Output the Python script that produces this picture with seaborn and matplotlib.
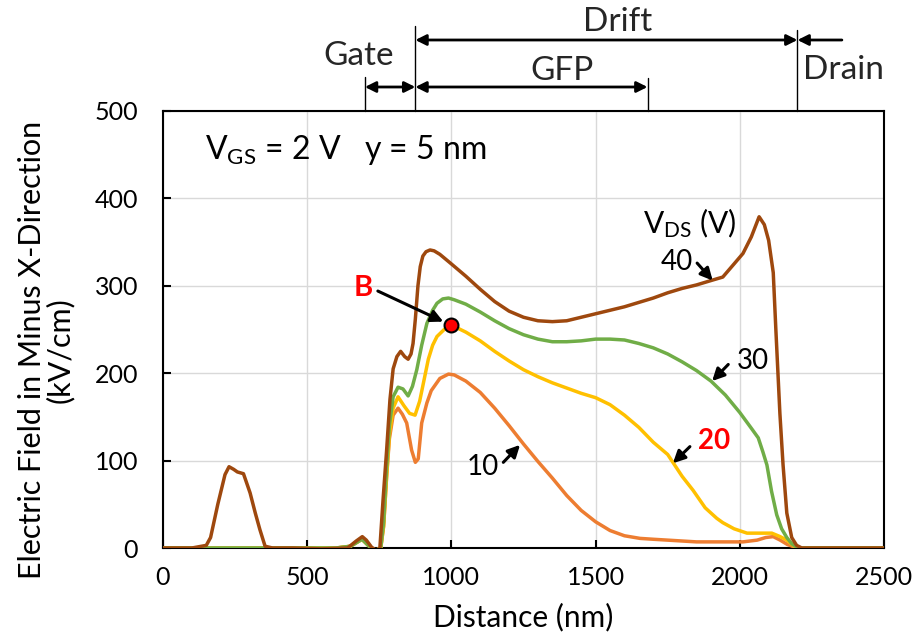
import numpy as np
import pandas as pd
import matplotlib
matplotlib.use("Agg")
import matplotlib.pyplot as plt
import seaborn as sns

# ---------------- data ----------------
x_40 = [0, 100, 150, 165, 190, 215, 229, 245, 258, 279, 302, 320, 336, 354, 380, 450, 550, 640,
        670, 691, 705, 723, 740, 752, 763, 775, 787, 798, 811, 824, 838, 850, 860, 867, 875, 884,
        892, 901, 912, 926, 940, 960, 1000, 1050, 1100, 1150, 1200, 1250, 1300, 1350, 1400, 1450,
        1500, 1550, 1600, 1650, 1700, 1750, 1800, 1850, 1900, 1941, 1980, 2011, 2040, 2067, 2085,
        2100, 2116, 2125, 2139, 2150, 2163, 2180, 2197, 2215, 2300, 2500]
y_40 = [0, 0, 3, 12, 50, 84, 93, 90, 87, 85, 63, 40, 21, 2, 0, 0, -1, 0,
        8, 13, 9, 1, -3, 0, 55, 110, 170, 205, 219, 225, 219, 216, 222, 234, 262, 300,
        322, 334, 339, 341, 340, 336, 325, 311, 296, 282, 271, 264, 260, 259, 260, 264,
        268, 272, 276, 281, 286, 292, 297, 301, 306, 310, 325, 337, 356, 379, 370,
        352, 315, 250, 154, 95, 40, 12, 3, 0, 0, 0]

x_30 = [0, 600, 650, 690, 715, 735, 755, 765, 775, 785, 798, 815, 832, 850, 865, 880, 897, 915,
        935, 950, 970, 990, 1010, 1050, 1100, 1150, 1200, 1250, 1300, 1350, 1400, 1450, 1500,
        1550, 1600, 1650, 1700, 1750, 1800, 1850, 1900, 1950, 2000, 2040, 2064, 2080, 2094,
        2110, 2128, 2145, 2163, 2180, 2197, 2215, 2500]
y_30 = [0, 0, 2, 10, 2, -3, 0, 30, 90, 140, 173, 184, 182, 174, 185, 204, 232, 257,
        272, 280, 285, 286, 284, 279, 270, 260, 251, 244, 239, 236, 236, 237, 239,
        239, 238, 234, 229, 222, 213, 203, 191, 175, 155, 137, 126, 110, 95,
        65, 38, 22, 12, 5, 1, 0, 0]

x_20 = [0, 600, 650, 690, 715, 735, 755, 765, 775, 785, 798, 815, 835, 855, 874, 890, 905, 920,
        935, 950, 975, 1000, 1050, 1100, 1150, 1200, 1250, 1300, 1350, 1400, 1450, 1500, 1550,
        1600, 1650, 1700, 1750, 1800, 1838, 1880, 1920, 1941, 1980, 2025, 2070, 2111, 2140,
        2163, 2185, 2200, 2500]
y_20 = [0, 0, 2, 10, 2, -3, 0, 25, 80, 130, 160, 173, 163, 154, 152, 168, 192, 216,
        232, 242, 250, 255, 247, 237, 225, 214, 204, 196, 189, 183, 177, 172, 164,
        152, 138, 121, 107, 82, 66, 46, 34, 29, 22, 17, 17, 17, 13,
        9, 3, 0, 0]

x_10 = [0, 600, 650, 690, 715, 735, 755, 765, 775, 785, 798, 815, 830, 845, 862, 875, 885, 897,
        915, 930, 960, 990, 1010, 1050, 1100, 1150, 1200, 1250, 1300, 1350, 1400, 1450, 1500,
        1550, 1600, 1654, 1700, 1750, 1800, 1850, 1900, 1950, 2011, 2060, 2090, 2116, 2140,
        2165, 2190, 2210, 2500]
y_10 = [0, 0, 2, 10, 2, -3, 0, 25, 80, 125, 152, 160, 153, 143, 112, 98, 102, 143,
        166, 180, 194, 199, 198, 191, 178, 160, 140, 119, 99, 80, 60, 43, 30,
        20, 14, 11, 10, 9, 8, 7, 7, 7, 7, 9, 12, 13, 9,
        4, 1, 0, 0]

vds_levels = ["10", "20", "30", "40"]
colors = ["#ED7D31", "#FFC000", "#70AD47", "#9E480E"]

x_ticks = [0, 500, 1000, 1500, 2000, 2500]
y_ticks = [0, 100, 200, 300, 400, 500]

point_B = (1000, 255)

frames = []
for lev, xs, ys in zip(vds_levels, [x_10, x_20, x_30, x_40], [y_10, y_20, y_30, y_40]):
    frames.append(pd.DataFrame({"x": xs, "y": ys, "VDS": lev, "order": np.arange(len(xs))}))
df = pd.concat(frames, ignore_index=True)

# ---------------- style ----------------
sns.set_theme(style="white")
FONT = "Lato"
plt.rcParams["font.family"] = [FONT, "DejaVu Sans"]
plt.rcParams["mathtext.fontset"] = "custom"
plt.rcParams["mathtext.rm"] = FONT
plt.rcParams["mathtext.it"] = FONT
plt.rcParams["mathtext.bf"] = FONT + ":bold"

fig = plt.figure(figsize=(9.19, 6.42), dpi=100)
ax = fig.add_axes([163 / 919, 1 - 548 / 642, (884 - 163) / 919, (548 - 111) / 642])

sns.lineplot(data=df, x="x", y="y", hue="VDS", hue_order=vds_levels,
             palette=dict(zip(vds_levels, colors)), sort=False, estimator=None,
             units="VDS", linewidth=2.5, legend=False, ax=ax, zorder=3)
for ln in ax.get_lines():
    ln.set_solid_joinstyle("round")
    ln.set_solid_capstyle("round")

ax.set_xlim(0, 2500)
ax.set_ylim(0, 500)
ax.set_xticks(x_ticks)
ax.set_yticks(y_ticks)
ax.set_xticklabels([str(v) for v in x_ticks])
ax.set_yticklabels([str(v) for v in y_ticks])
ax.set_xlabel("")
ax.set_ylabel("")
ax.grid(True, color="#D9D9D9", linewidth=1.0, zorder=0)
ax.set_axisbelow(True)
for s in ax.spines.values():
    s.set_color("black")
    s.set_linewidth(1.5)
ax.tick_params(axis="both", direction="in", length=6, width=1.5, color="black",
               labelsize=18, labelcolor="black", left=True, bottom=True)
ax.tick_params(axis="x", pad=13)
ax.tick_params(axis="y", pad=18)

fig.text(46 / 919, 1 - 350 / 642, "Electric Field in Minus X-Direction\n(kV/cm)",
         rotation=90, ha="center", va="center", multialignment="center",
         fontsize=22, color="black", linespacing=1.0)
fig.text(523 / 919, 1 - 617 / 642, "Distance (nm)", ha="center", va="center",
         fontsize=21.5, color="black")

# point B
ax.plot([point_B[0]], [point_B[1]], marker="o", markersize=10, markerfacecolor="red",
        markeredgecolor="black", markeredgewidth=1.5, zorder=6)

arrow_kw = dict(arrowstyle="-|>", color="black", lw=2.2, mutation_scale=18,
                shrinkA=0, shrinkB=0)
ax.annotate("", xy=(972, 259), xytext=(745, 294), arrowprops=arrow_kw, zorder=5)
ax.text(693, 297, "B", color="red", fontsize=21, fontweight="bold", ha="center", va="center")

ax.annotate("", xy=(1238, 118), xytext=(1180, 98), arrowprops=arrow_kw, zorder=5)
ax.text(1108, 93, "10", fontsize=20, ha="center", va="center", color="black")

ax.annotate("", xy=(1768, 97), xytext=(1827, 116), arrowprops=arrow_kw, zorder=5)
ax.text(1910, 122, "20", fontsize=20, fontweight="bold", ha="center", va="center", color="red")

ax.annotate("", xy=(1904, 191), xytext=(1960, 210), arrowprops=arrow_kw, zorder=5)
ax.text(2045, 214, "30", fontsize=20, ha="center", va="center", color="black")

ax.annotate("", xy=(1906, 306), xytext=(1852, 326), arrowprops=arrow_kw, zorder=5)
ax.text(1780, 327, "40", fontsize=20, ha="center", va="center", color="black")

ax.text(1827, 372, r"V$_{\mathregular{DS}}$ (V)", fontsize=21.5, ha="center", va="center",
        color="black")
ax.text(146, 455, r"V$_{\mathregular{GS}}$ = 2 V   y = 5 nm", fontsize=23, ha="left",
        va="center", color="black")

# ---------------- region markers above the plot ----------------
trans = ax.get_xaxis_transform()
def frac(py):
    return (548 - py) / 437

for xv, top in [(700, 77), (875, 26), (1680, 78), (2200, 30)]:
    ax.plot([xv, xv], [frac(top), 1.0], transform=trans, color="black", lw=1.0,
            clip_on=False)

dbl = dict(arrowstyle="<|-|>", color="black", lw=2.0, mutation_scale=16,
           shrinkA=0, shrinkB=0)
sgl = dict(arrowstyle="-|>", color="black", lw=2.0, mutation_scale=16,
           shrinkA=0, shrinkB=0)
ax.annotate("", xy=(2200, frac(40)), xytext=(875, frac(40)), xycoords=trans,
            textcoords=trans, arrowprops=dbl, annotation_clip=False)
ax.annotate("", xy=(875, frac(87)), xytext=(700, frac(87)), xycoords=trans,
            textcoords=trans, arrowprops=dbl, annotation_clip=False)
ax.annotate("", xy=(1680, frac(87)), xytext=(875, frac(87)), xycoords=trans,
            textcoords=trans, arrowprops=dbl, annotation_clip=False)
ax.annotate("", xy=(2200, frac(40)), xytext=(2354, frac(40)), xycoords=trans,
            textcoords=trans, arrowprops=sgl, annotation_clip=False)

ax.text(1575, frac(22), "Drift", transform=trans, fontsize=24, ha="center", va="center")
ax.text(680, frac(56), "Gate", transform=trans, fontsize=24, ha="center", va="center")
ax.text(1383, frac(71), "GFP", transform=trans, fontsize=24, ha="center", va="center")
ax.text(2358, frac(70), "Drain", transform=trans, fontsize=24, ha="center", va="center")

fig.savefig("out.png", dpi=100)
